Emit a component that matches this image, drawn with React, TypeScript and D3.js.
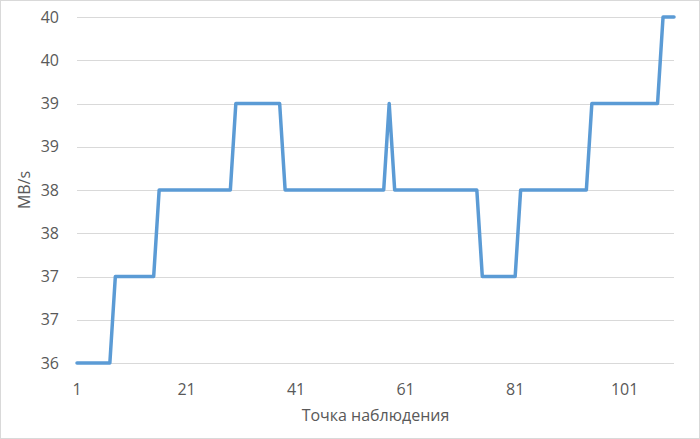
import React from "react";
import * as d3 from "d3";

const values: number[] = [
  36, 36, 36, 36, 36, 36, 36,
  37, 37, 37, 37, 37, 37, 37, 37,
  38, 38, 38, 38, 38, 38, 38, 38, 38, 38, 38, 38, 38, 38,
  39, 39, 39, 39, 39, 39, 39, 39, 39,
  38, 38, 38, 38, 38, 38, 38, 38, 38, 38, 38, 38, 38, 38, 38, 38, 38, 38, 38,
  39,
  38, 38, 38, 38, 38, 38, 38, 38, 38, 38, 38, 38, 38, 38, 38, 38,
  37, 37, 37, 37, 37, 37, 37,
  38, 38, 38, 38, 38, 38, 38, 38, 38, 38, 38, 38, 38,
  39, 39, 39, 39, 39, 39, 39, 39, 39, 39, 39, 39, 39,
  40, 40, 40,
];
const categories: number[] = values.map((_, i) => i + 1);
const xTickValues: number[] = [1, 21, 41, 61, 81, 101];
const yTickValues: number[] = [36, 36.5, 37, 37.5, 38, 38.5, 39, 39.5, 40];
const yTickLabels: string[] = ["36", "37", "37", "38", "38", "39", "39", "40", "40"];
const xTitle = "Точка наблюдения";
const yTitle = "MB/s";

const W = 700;
const H = 439;
const left = 77;
const right = 674;
const top = 17;
const bottom = 363;
const font = "'Open Sans', 'Noto Sans', sans-serif";
const textColor = "#595959";

export default function App() {
  const x = d3.scalePoint<number>().domain(categories).range([left, right]);
  const y = d3.scaleLinear().domain([36, 40]).range([bottom, top]);
  const line = d3
    .line<number>()
    .x((_, i) => x(categories[i]) as number)
    .y((d) => y(d));

  return (
    <svg
      width={W}
      height={H}
      style={{ position: "absolute", left: 0, top: 0, background: "#fff" }}
      fontFamily={font}
    >
      <rect x={0.5} y={0.5} width={W - 1} height={H - 1} fill="#fff" stroke="#D9D9D9" />
      {yTickValues.map((v, i) => (
        <g key={"y" + i}>
          <line x1={left} x2={right} y1={Math.round(y(v)) + 0.5} y2={Math.round(y(v)) + 0.5} stroke="#D9D9D9" strokeWidth={1} />
          <text x={59} y={y(v)} dy="0.35em" textAnchor="end" fontSize={16} fill={textColor}>
            {yTickLabels[i]}
          </text>
        </g>
      ))}
      {xTickValues.map((v) => (
        <text key={"x" + v} x={x(v)} y={395} textAnchor="middle" fontSize={16} fill={textColor}>
          {v}
        </text>
      ))}
      <path d={line(values) || ""} fill="none" stroke="#5B9BD5" strokeWidth={3.5} strokeLinejoin="round" strokeLinecap="round" />
      <text x={(left + right) / 2} y={421} textAnchor="middle" fontSize={16} fill={textColor}>
        {xTitle}
      </text>
      <text
        transform={`translate(30, ${(top + bottom) / 2}) rotate(-90)`}
        textAnchor="middle"
        fontSize={16}
        fill={textColor}
      >
        {yTitle}
      </text>
    </svg>
  );
}
